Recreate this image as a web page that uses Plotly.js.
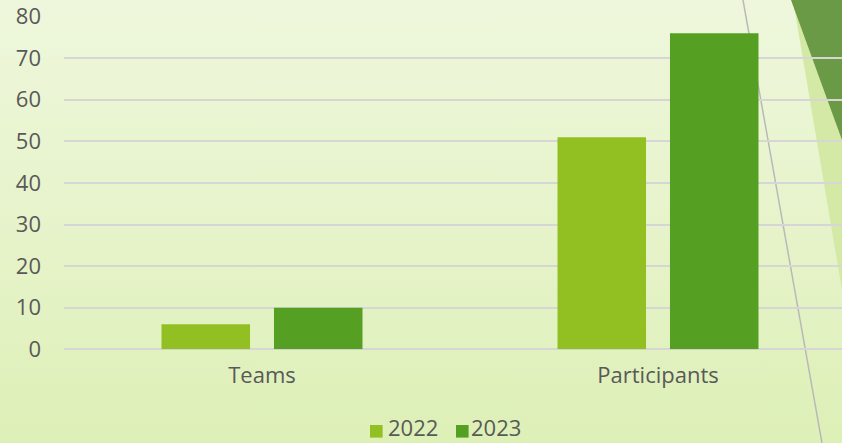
<!DOCTYPE html>
<html>
<head>
<meta charset="utf-8">
<script src="https://cdn.plot.ly/plotly-3.0.1.min.js"></script>
<style>
  html, body { margin: 0; padding: 0; }
  #chart { width: 842px; height: 443px; background: linear-gradient(to bottom, #eef7dc 0%, #e6f3c9 55%, #ddf0b6 100%); }
</style>
</head>
<body>
<div id="chart"></div>
<script>
const categories = ["Teams", "Participants"];
const series2022 = [6, 51];
const series2023 = [10, 76];
const seriesNames = ["2022", "2023"];
const seriesColors = ["#92c023", "#55a022"];
const yTicks = [0, 10, 20, 30, 40, 50, 60, 70, 80];

const W = 842, H = 443;
const px = x => x / W;
const py = y => 1 - y / H;
function poly(pts) {
  return 'M' + pts.map(p => px(p[0]) + ',' + py(p[1])).join(' L') + ' Z';
}

const font = { family: 'Open Sans, sans-serif', size: 22, color: '#595959' };

const data = [
  { type: 'bar', name: seriesNames[0], x: categories, y: series2022,
    marker: { color: seriesColors[0], line: { width: 0 } }, hoverinfo: 'none' },
  { type: 'bar', name: seriesNames[1], x: categories, y: series2023,
    marker: { color: seriesColors[1], line: { width: 0 } }, hoverinfo: 'none' }
];

// manual legend (squares + labels)
const legendSquares = [370, 456];
const legendTexts = [387, 470];
const legendShapes = seriesNames.map((n, i) => ({
  type: 'rect', xref: 'paper', yref: 'paper', layer: 'above',
  x0: px(legendSquares[i]), x1: px(legendSquares[i] + 12.6),
  y0: py(437.6), y1: py(425),
  fillcolor: seriesColors[i], line: { width: 0 }
}));
const legendAnnots = seriesNames.map((n, i) => ({
  xref: 'paper', yref: 'paper', x: px(legendTexts[i]), y: 0,
  xanchor: 'left', yanchor: 'bottom', text: n, showarrow: false,
  font: font, borderpad: 0
}));

const layout = {
  width: W, height: H,
  margin: { l: 0, r: 0, t: 0, b: 0 },
  paper_bgcolor: 'rgba(0,0,0,0)',
  plot_bgcolor: 'rgba(0,0,0,0)',
  font: font,
  barmode: 'group',
  bargap: 0.432,
  bargroupgap: 0.213,
  showlegend: false,
  xaxis: {
    domain: [64 / W, 1],
    range: [-0.5, -0.5 + (W - 64) / 396],
    showgrid: false, zeroline: false, showline: false,
    ticks: '', ticklabelstandoff: 11,
    tickfont: font, fixedrange: true
  },
  yaxis: {
    domain: [py(349.3), py(16.5)],
    range: [0, 80],
    tickvals: yTicks,
    ticktext: yTicks.map(String),
    showgrid: true, gridcolor: '#d6d6d6', gridwidth: 2,
    zeroline: true, zerolinecolor: '#d6d6d6', zerolinewidth: 2,
    showline: false, ticks: '', ticklabelstandoff: 22,
    tickfont: font, fixedrange: true
  },
  annotations: legendAnnots,
  shapes: [
    { type: 'path', xref: 'paper', yref: 'paper', layer: 'below',
      path: poly([[793, 0], [842, 0], [842, 290]]),
      fillcolor: '#d5e9a6', line: { width: 0 } },
    { type: 'path', xref: 'paper', yref: 'paper', layer: 'below',
      path: poly([[791, 0], [842, 0], [842, 140]]),
      fillcolor: '#6a9a45', line: { width: 0 } },
    { type: 'line', xref: 'paper', yref: 'paper', layer: 'below',
      x0: px(743), y0: py(0), x1: px(822), y1: py(443),
      line: { color: '#b9b9b9', width: 1.5 } }
  ].concat(legendShapes)
};

Plotly.newPlot('chart', data, layout, { staticPlot: true, displayModeBar: false });
</script>
</body>
</html>
